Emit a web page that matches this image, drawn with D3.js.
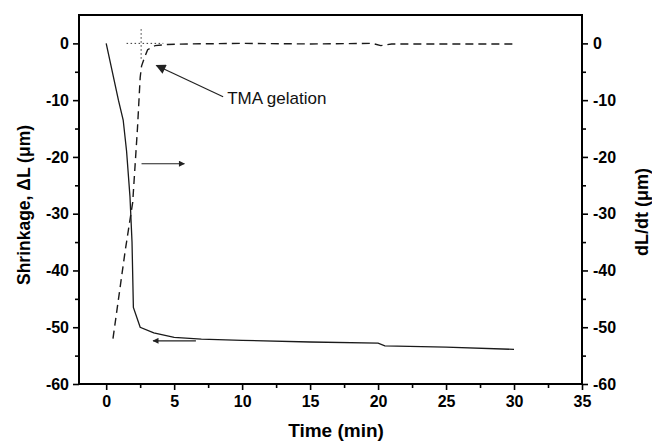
<!DOCTYPE html>
<html><head><meta charset="utf-8">
<script src="https://cdn.jsdelivr.net/npm/d3@7"></script>
<style>body{margin:0;background:#fff}svg{display:block}</style>
</head><body>
<svg id="c" width="652" height="442"></svg>
<script>
// Data
const shrinkTime  = [0, 0.9, 1.25, 1.5, 1.75, 1.9, 2.0, 2.5, 3.5, 5, 7, 10, 15, 20, 20.5, 25, 30];
const shrinkValue = [0, -10, -13.5, -19, -27, -35, -46.5, -50, -51, -51.8, -52.1, -52.3, -52.6, -52.8, -53.3, -53.5, -53.9];
const rateTime  = [0.5, 1.4, 1.95, 2.3, 2.5, 2.6, 2.8, 3.05, 3.6, 4.5, 6, 10, 15, 19.6, 20.2, 21, 25, 30];
const rateValue = [-52, -36.5, -28, -15, -6, -4, -2.6, -1.1, -0.4, -0.2, -0.1, 0, -0.1, 0, -0.4, -0.1, -0.1, -0.1];
const xTicks = [0, 5, 10, 15, 20, 25, 30, 35];
const xMinor = [2.5, 7.5, 12.5, 17.5, 22.5, 27.5, 32.5];
const yTicks = [0, -10, -20, -30, -40, -50, -60];
const yMinor = [-5, -15, -25, -35, -45, -55];
const annoText = "TMA gelation";

const svg = d3.select("#c");
const L = 79, R = 582, T = 15, B = 384;
const x = d3.scaleLinear().domain([-2, 35]).range([L, R]);
const y = d3.scaleLinear().domain([-60, 5]).range([B, T]);
const y2 = d3.scaleLinear().domain([-60, 5]).range([B, T]);
const font = "'Liberation Sans', Arial, sans-serif";
const fmt = d => String(d);

function styleAxis(g){
  g.select(".domain").remove();
  g.selectAll("line").attr("stroke","#000").attr("stroke-width",1.6);
  g.selectAll("text").attr("font-family",font).attr("font-size","16px").attr("font-weight","bold").attr("fill","#000");
}

// axes
svg.append("g").attr("transform",`translate(0,${B})`).call(d3.axisBottom(x).tickValues(xTicks).tickSize(6).tickPadding(6).tickFormat(fmt)).call(styleAxis);
svg.append("g").attr("transform",`translate(0,${B})`).call(d3.axisBottom(x).tickValues(xMinor).tickSize(4).tickFormat("")).call(styleAxis);
svg.append("g").attr("transform",`translate(${L},0)`).call(d3.axisLeft(y).tickValues(yTicks).tickSize(6).tickPadding(4).tickFormat(fmt)).call(styleAxis);
svg.append("g").attr("transform",`translate(${L},0)`).call(d3.axisLeft(y).tickValues(yMinor).tickSize(4).tickFormat("")).call(styleAxis);
svg.append("g").attr("transform",`translate(${R},0)`).call(d3.axisRight(y2).tickValues(yTicks).tickSize(6).tickPadding(5).tickFormat(fmt)).call(styleAxis);
svg.append("g").attr("transform",`translate(${R},0)`).call(d3.axisRight(y2).tickValues(yMinor).tickSize(4).tickFormat("")).call(styleAxis);

// frame
svg.append("rect").attr("x",L).attr("y",T).attr("width",R-L).attr("height",B-T)
  .attr("fill","none").attr("stroke","#000").attr("stroke-width",2);

// axis titles
svg.append("text").attr("x",336).attr("y",437).attr("text-anchor","middle")
  .attr("font-family",font).attr("font-size","19px").attr("font-weight","bold").text("Time (min)");
svg.append("text").attr("transform",`translate(30,205) rotate(-90)`).attr("text-anchor","middle")
  .attr("font-family",font).attr("font-size","17.5px").attr("font-weight","bold").text("Shrinkage, ΔL (μm)");
svg.append("text").attr("transform",`translate(648,212) rotate(-90)`).attr("text-anchor","middle")
  .attr("font-family",font).attr("font-size","18px").attr("font-weight","bold").text("dL/dt (μm)");

// lines
const line1 = d3.line().x((d,i)=>x(shrinkTime[i])).y(d=>y(d));
svg.append("path").attr("d",line1(shrinkValue)).attr("fill","none").attr("stroke","#1a1a1a").attr("stroke-width",1.3);
const line2 = d3.line().x((d,i)=>x(rateTime[i])).y(d=>y2(d));
svg.append("path").attr("d",line2(rateValue)).attr("fill","none").attr("stroke","#1a1a1a").attr("stroke-width",1.4).attr("stroke-dasharray","8,5");

// dotted crosshair
svg.append("line").attr("x1",x(1.5)).attr("x2",x(4.2)).attr("y1",y(0)).attr("y2",y(0))
  .attr("stroke","#333").attr("stroke-width",1).attr("stroke-dasharray","1.5,2.5");
svg.append("line").attr("x1",x(2.57)).attr("x2",x(2.57)).attr("y1",y(2.5)).attr("y2",y(-3))
  .attr("stroke","#333").attr("stroke-width",1).attr("stroke-dasharray","1.5,2.5");

// arrows
const defs = svg.append("defs");
defs.append("marker").attr("id","ah").attr("viewBox","0 0 10 10").attr("refX",9).attr("refY",5)
  .attr("markerWidth",10).attr("markerHeight",6).attr("orient","auto").attr("markerUnits","userSpaceOnUse")
  .append("path").attr("d","M0,0L10,5L0,10z").attr("fill","#222");
defs.append("marker").attr("id","ah2").attr("viewBox","0 0 10 10").attr("refX",9).attr("refY",5)
  .attr("markerWidth",14).attr("markerHeight",10).attr("orient","auto").attr("markerUnits","userSpaceOnUse")
  .append("path").attr("d","M0,0L10,5L0,10z").attr("fill","#222");
function arrow(x1,y1,x2,y2,m){
  svg.append("line").attr("x1",x(x1)).attr("y1",y(y1)).attr("x2",x(x2)).attr("y2",y(y2))
    .attr("stroke","#222").attr("stroke-width",1.2).attr("marker-end",`url(#${m})`);
}
arrow(2.6,-21.2,5.75,-21.2,"ah");
arrow(6.6,-52.4,3.45,-52.4,"ah");
arrow(8.6,-9.4,3.7,-3.9,"ah2");
svg.append("text").attr("x",x(8.9)).attr("y",y(-9.6)+6).attr("font-family",font).attr("font-size","17px")
  .attr("fill","#111").text(annoText);
</script>
</body></html>
